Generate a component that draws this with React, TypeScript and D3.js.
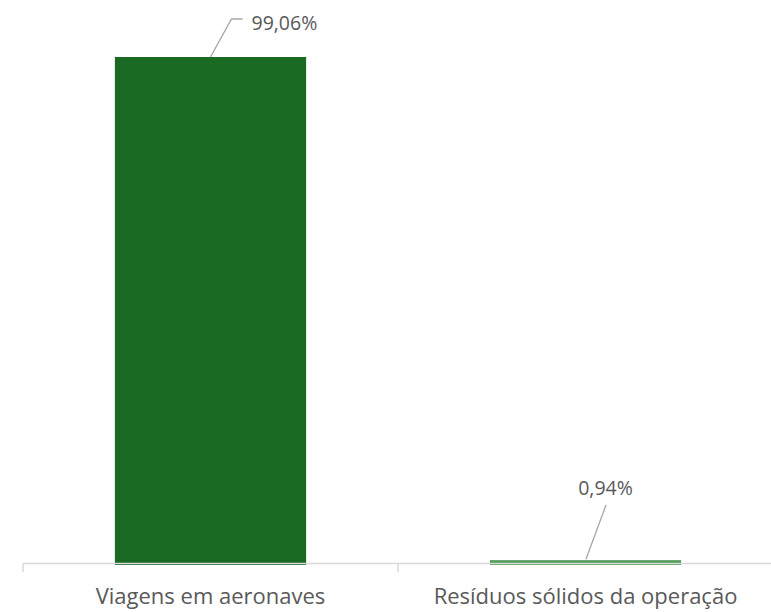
import React from "react";
import * as d3 from "d3";

const categories = ["Viagens em aeronaves", "Resíduos sólidos da operação"];
const values = [99.06, 0.94];
const valueLabels = ["99,06%", "0,94%"];

const W = 771;
const H = 612;

export default function App() {
  const x = d3.scaleBand<string>().domain(categories).range([23, 773]).paddingInner(0.49).paddingOuter(0.245);
  const y = d3.scaleLinear().domain([0, 99.06]).range([565, 57]);
  const axisY = 563.5;
  const font = "'Open Sans', 'Noto Sans', sans-serif";
  const gray = "#595959";

  return (
    <svg width={W} height={H} style={{ position: "absolute", left: 0, top: 0, background: "#fff" }} fontFamily={font}>
      {categories.map((c, i) => (
        <rect key={c} x={x(c)!} y={y(values[i])} width={x.bandwidth()} height={y(0) - y(values[i])} fill={i === 0 ? "#1B6A24" : "#4f9a57"} />
      ))}
      <line x1={23} x2={W} y1={axisY} y2={axisY} stroke="#d9d9d9" strokeWidth={1.5} />
      {[0, 1, 2].map((k) => {
        const tx = 23 + k * x.step();
        return <line key={k} x1={tx} x2={tx} y1={axisY} y2={572} stroke="#d9d9d9" strokeWidth={1.5} />;
      })}
      {categories.map((c) => (
        <text key={c} x={x(c)! + x.bandwidth() / 2} y={604} textAnchor="middle" fontSize={22} fill={gray}>
          {c}
        </text>
      ))}
      {(() => {
        const cx = x(categories[0])! + x.bandwidth() / 2;
        const top = y(values[0]);
        return (
          <g>
            <polyline points={`${cx},${top} ${cx + 21},${top - 38} ${cx + 32},${top - 38}`} fill="none" stroke="#a6a6a6" strokeWidth={1.3} />
            <text x={cx + 41} y={30} fontSize={19.5} fill={gray}>{valueLabels[0]}</text>
          </g>
        );
      })()}
      {(() => {
        const cx = x(categories[1])! + x.bandwidth() / 2;
        const top = y(values[1]);
        return (
          <g>
            <line x1={cx + 0.5} y1={top - 1} x2={cx + 20.5} y2={505} stroke="#a6a6a6" strokeWidth={1.3} />
            <text x={cx + 20} y={495} textAnchor="middle" fontSize={19.5} fill={gray}>{valueLabels[1]}</text>
          </g>
        );
      })()}
    </svg>
  );
}
